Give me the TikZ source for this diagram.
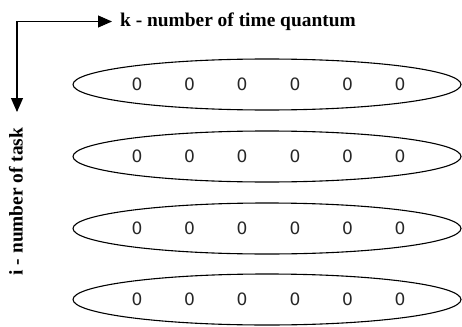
\documentclass[tikz,border=0pt]{standalone}
\usepackage{fontspec}
\setmainfont{Liberation Serif}
\newfontfamily\zerofont{DejaVu Sans}
\usetikzlibrary{shapes.geometric,arrows.meta}
\begin{document}
\begin{tikzpicture}[x=1pt,y=-1pt,
  rowell/.style={draw, ellipse, line width=1.1pt, minimum width=388pt, minimum height=51pt, inner sep=0pt},
  slot/.style={font=\zerofont\fontsize{17}{17}\selectfont, inner sep=0pt, text=black!85},
  axislabel/.style={font=\bfseries\fontsize{19.4}{20}\selectfont, inner sep=0pt},
  axisarrow/.style={line width=1.1pt, line join=miter, {Triangle[length=14pt,width=12pt]}-{Triangle[length=14pt,width=12pt]}}]
\useasboundingbox (0,0) rectangle (462,326);
\coordinate (corner) at (17,21.5);
\coordinate (kend) at (112,21.5);
\coordinate (iend) at (17,112);
\draw[axisarrow] (kend) -- (corner) -- (iend);
\node[axislabel, anchor=base west] (klab) at (120,27) {k - number of time quantum};
\node[axislabel, rotate=90] (ilab) at (16,201.5) {i - number of task};
\foreach \r/\yy in {1/84.5, 2/156.5, 3/228.5, 4/299.5} {
  \node[rowell] (row\r) at (267,\yy) {};
  \foreach \c/\xx in {1/137, 2/189.5, 3/242, 4/295, 5/347.5, 6/400} {
    \node[slot] (s\r-\c) at (\xx,\yy) {0};
  }
}
\end{tikzpicture}
\end{document}
